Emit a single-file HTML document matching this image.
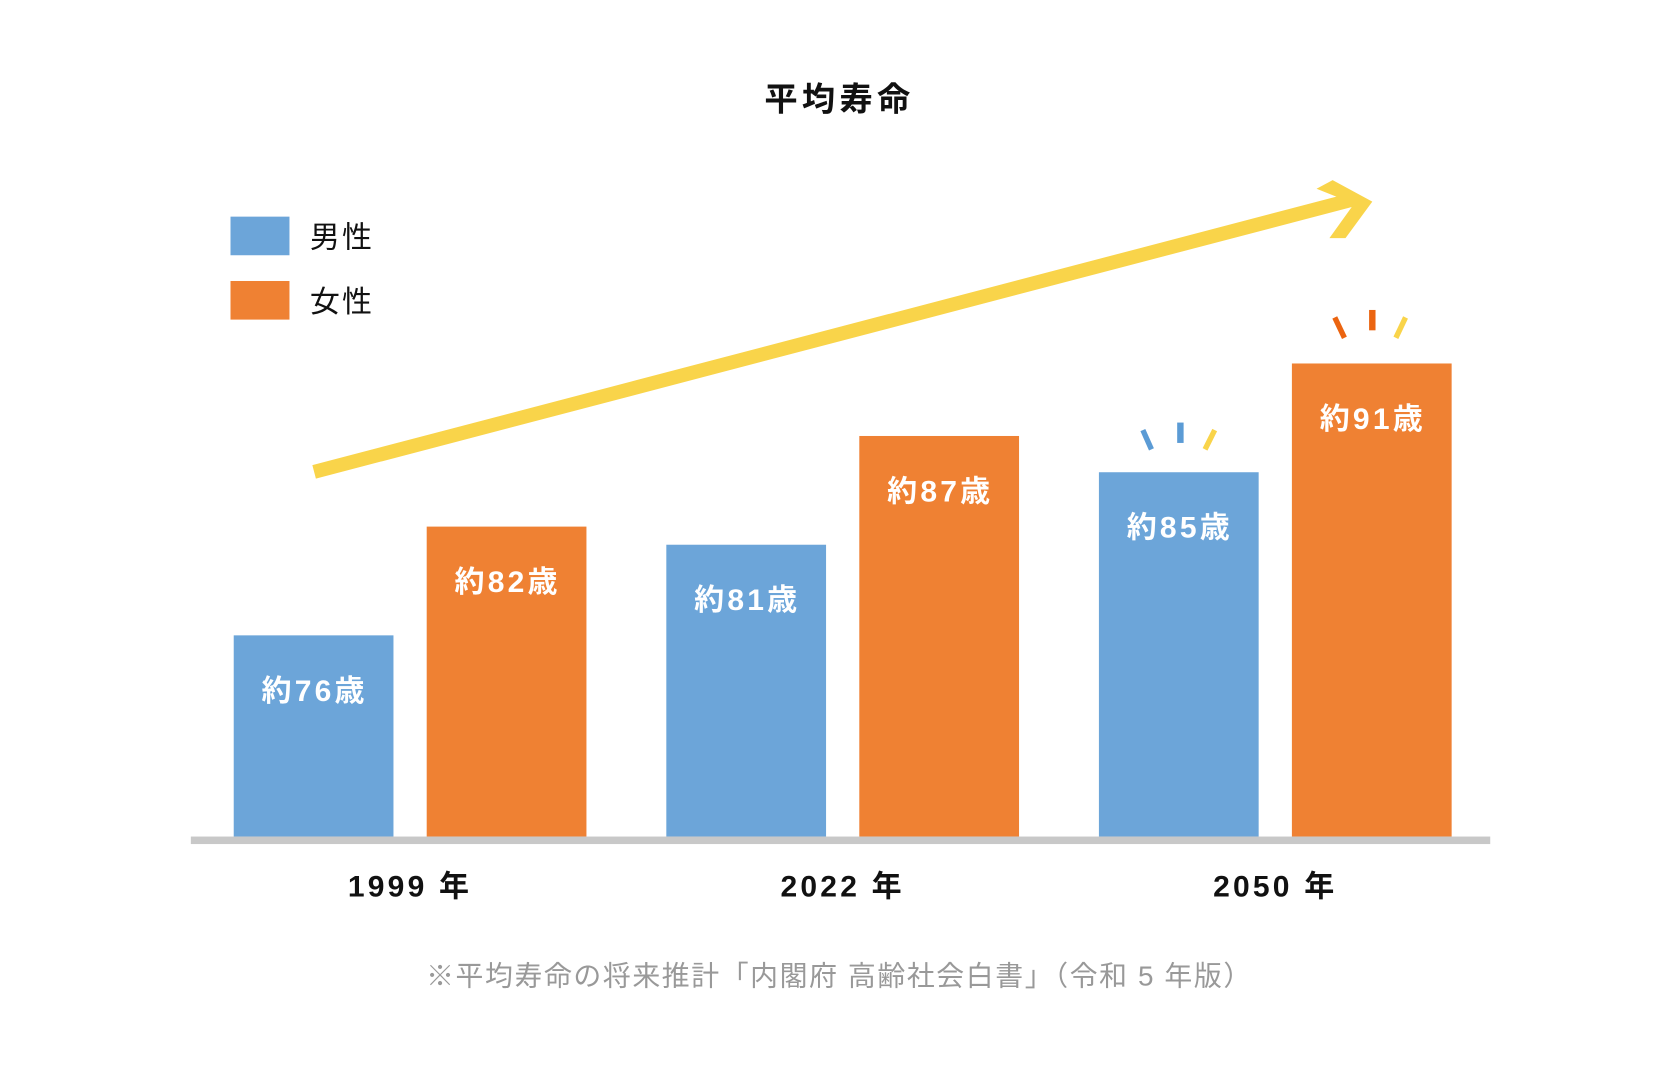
<!DOCTYPE html>
<html><head><meta charset="utf-8"><style>
html,body{margin:0;padding:0;background:#fff;}
svg{display:block;font-family:"Liberation Sans","Noto Sans CJK JP",sans-serif;}
</style></head><body>
<svg id="chart" width="1680" height="1080" viewBox="0 0 1567 1007" preserveAspectRatio="none" xmlns="http://www.w3.org/2000/svg">
<rect width="1567" height="1007" fill="#fff"/>
<text x="783" y="103" text-anchor="middle" font-size="31" font-weight="bold" letter-spacing="4" fill="#111">平均寿命</text>
<g>
<rect x="215" y="202" width="55" height="36" fill="#6CA5D9"/>
<text x="289" y="231" font-size="28" fill="#111" letter-spacing="2">男性</text>
<rect x="215" y="262" width="55" height="36" fill="#EF8133"/>
<text x="289" y="291" font-size="28" fill="#111" letter-spacing="2">女性</text>
</g>
<g>
<line x1="293" y1="440" x2="1262" y2="186" stroke="#F9D44A" stroke-width="13"/>
<polygon points="1228,176 1243,168 1280,188 1255,222 1240,222 1263,190" fill="#F9D44A"/>
</g>
<g id="bars"></g>
<rect x="178" y="780" width="1212" height="7" fill="#C8C8C8"/>
<g id="xlabels"></g>
<g>
<line x1="1066" y1="401" x2="1074" y2="419" stroke="#5B9BD5" stroke-width="5"/>
<line x1="1101" y1="394" x2="1101" y2="413" stroke="#5B9BD5" stroke-width="6"/>
<line x1="1133" y1="401" x2="1124" y2="419" stroke="#F9D44A" stroke-width="5"/>
</g>
<g>
<line x1="1245" y1="296" x2="1254" y2="315" stroke="#EB6410" stroke-width="5"/>
<line x1="1280" y1="289" x2="1280" y2="308" stroke="#EB6410" stroke-width="6"/>
<line x1="1311" y1="296" x2="1302" y2="315" stroke="#F9D44A" stroke-width="5"/>
</g>
<text x="783" y="919" text-anchor="middle" font-size="26" letter-spacing="1.5" fill="#999">※平均寿命の将来推計「内閣府 高齢社会白書」（令和 5 年版）</text>
</svg>
<script>
const categories = ["1999 年", "2022 年", "2050 年"];
const maleValues = [76, 81, 85];
const femaleValues = [82, 87, 91];
const maleLabels = ["約76歳", "約81歳", "約85歳"];
const femaleLabels = ["約82歳", "約87歳", "約91歳"];

const NS = "http://www.w3.org/2000/svg";
const baseY = 780, yMin = 64.9, pxPer = 16.9;
function yScale(v){ return baseY - (v - yMin) * pxPer; }
function xGroup(i){ return 218 + i * 403.5; }
const barW = 149, gap = 31;
const bars = document.getElementById('bars');
const xl = document.getElementById('xlabels');
function mk(tag, attrs){ const e=document.createElementNS(NS,tag); for(const k in attrs) e.setAttribute(k,attrs[k]); return e; }
categories.forEach((c,i)=>{
  [[maleValues,maleLabels,'#6CA5D9','male',0],[femaleValues,femaleLabels,'#EF8133','female',1]].forEach(([vals,labs,col,s,k])=>{
    const x = xGroup(i) + k*(barW+gap);
    const y = yScale(vals[i]);
    const r = mk('rect',{x:x,y:y,width:barW,height:baseY-y,fill:col});
    
    
    bars.appendChild(r);
    const t = mk('text',{x:x+barW/2+1,y:y+61,'text-anchor':'middle','font-size':28,'font-weight':'bold',fill:'#fff','letter-spacing':3});
    t.textContent = labs[i];
    
    
    bars.appendChild(t);
  });
  const t = mk('text',{x:xGroup(i)+barW+gap/2,y:836,'text-anchor':'middle','font-size':28,'font-weight':'bold',fill:'#111','letter-spacing':3});
  t.textContent = c;
  
  
  xl.appendChild(t);
});
</script>
</body></html>
